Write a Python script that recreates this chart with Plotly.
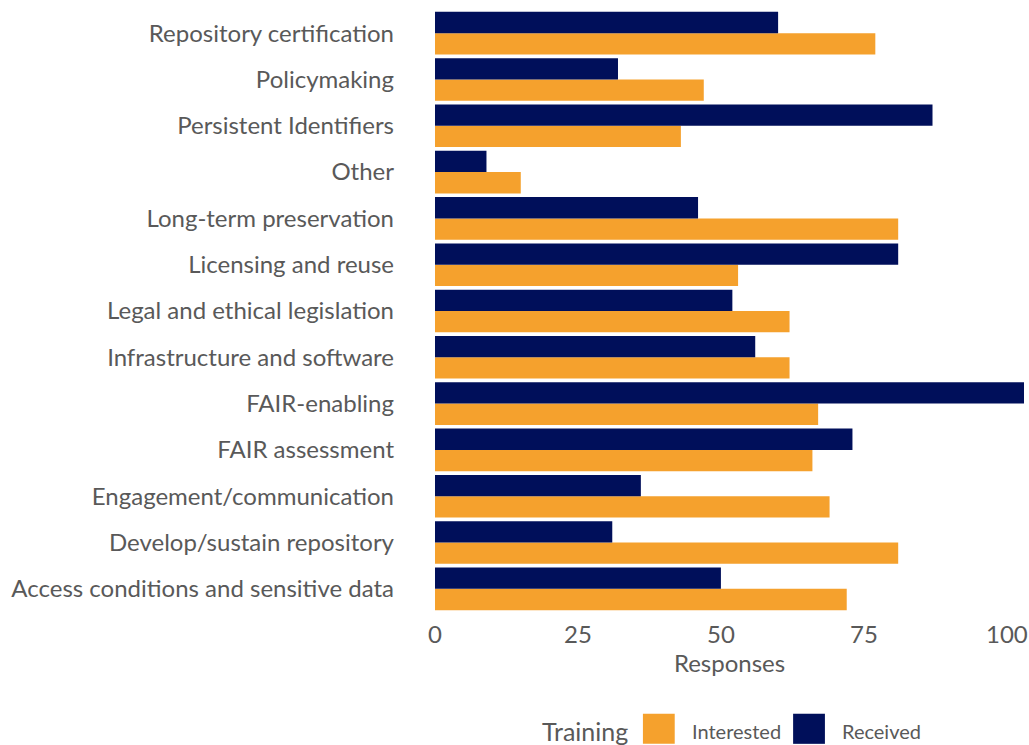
import plotly.graph_objects as go

# Training topics, bottom to top
topics = [
    "Access conditions and sensitive data",
    "Develop/sustain repository",
    "Engagement/communication",
    "FAIR assessment",
    "FAIR-enabling",
    "Infrastructure and software",
    "Legal and ethical legislation",
    "Licensing and reuse",
    "Long-term preservation",
    "Other",
    "Persistent Identifiers",
    "Policymaking",
    "Repository certification",
]
interested = [72, 81, 69, 66, 67, 62, 62, 53, 81, 15, 43, 47, 77]
received = [50, 31, 36, 73, 103, 56, 52, 81, 46, 9, 87, 32, 60]

series_names = ["Interested", "Received"]
series_colors = ["#f5a12d", "#000f5a"]

font_name = "Lato"
grey = "#595959"

fig = go.Figure()
for name, vals, col in zip(series_names, [interested, received], series_colors):
    fig.add_trace(go.Bar(name=name, y=topics, x=vals, orientation="h",
                         marker=dict(color=col, line=dict(width=0)),
                         showlegend=False))

# legend drawn by hand so the swatches can be as big as in the original
shapes = []
annotations = [dict(text="Training", x=0.331, y=-0.197, xref="paper", yref="paper",
                    xanchor="right", yanchor="middle", showarrow=False,
                    font=dict(size=25, color=grey))]
for i, (name, col) in enumerate(zip(series_names, series_colors)):
    x0 = 0.353 + i * 0.255
    shapes.append(dict(type="rect", xref="paper", yref="paper",
                       x0=x0, x1=x0 + 0.054, y0=-0.219, y1=-0.169,
                       fillcolor=col, line=dict(width=0)))
    annotations.append(dict(text=name, x=x0 + 0.08, y=-0.197, xref="paper", yref="paper",
                            xanchor="left", yanchor="middle", showarrow=False,
                            font=dict(size=20, color=grey)))

fig.update_layout(
    width=1029, height=745,
    barmode="group", bargap=0.08, bargroupgap=0,
    plot_bgcolor="white", paper_bgcolor="white",
    margin=dict(l=435, r=5, t=10, b=133),
    font=dict(family=font_name, color=grey, size=24),
    shapes=shapes, annotations=annotations,
    xaxis=dict(range=[0, 103], tickvals=[0, 25, 50, 75, 100], showgrid=False,
               zeroline=False, showline=False, ticks="", automargin=False,
               ticklabelstandoff=6,
               title=dict(text="Responses", standoff=4, font=dict(size=24)),
               tickfont=dict(size=24)),
    yaxis=dict(showgrid=False, zeroline=False, showline=False, ticks="",
               automargin=False, ticklabelstandoff=40, tickfont=dict(size=24)),
)

# drop the browser's default body margin so the figure fills the window exactly
fig.write_html("out.html", config={"displayModeBar": False},
               post_script="document.body.style.margin = '0';")
